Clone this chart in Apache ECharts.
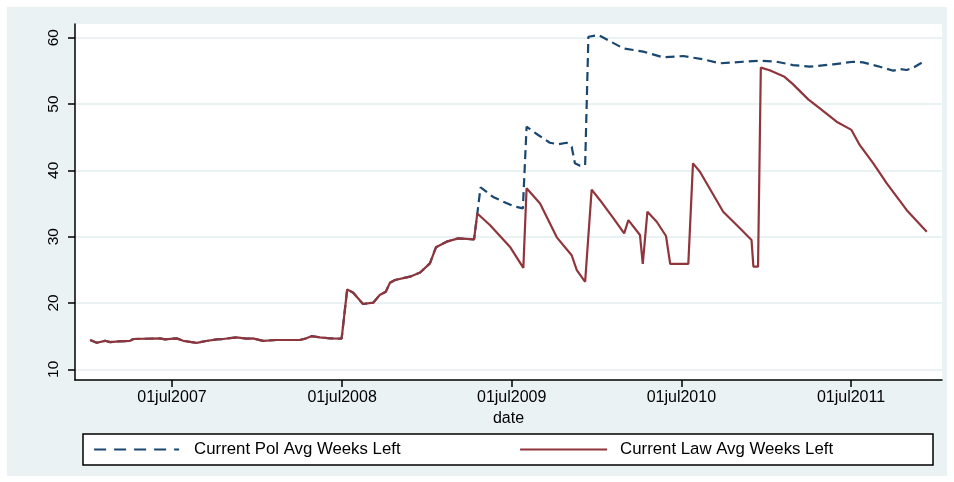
<!DOCTYPE html>
<html>
<head>
<meta charset="utf-8">
<script src="https://cdn.jsdelivr.net/npm/echarts@6/dist/echarts.min.js"></script>
<style>
  html, body { margin: 0; padding: 0; background: #fff; }
  #chart { width: 954px; height: 482px; }
</style>
</head>
<body>
<div id="chart"></div>
<script>
// Weekly averages: both measures coincide until April 2009
const sharedDates = [
  '2007-01-06','2007-01-20','2007-02-07','2007-02-18','2007-03-08','2007-04-02','2007-04-09',
  '2007-06-05','2007-06-16','2007-07-11','2007-07-25','2007-08-23','2007-09-13','2007-10-05',
  '2007-10-19','2007-11-17','2007-12-08','2007-12-22','2008-01-13','2008-02-11','2008-03-10',
  '2008-04-01','2008-04-15','2008-04-26','2008-05-14','2008-06-05','2008-06-30','2008-07-04',
  '2008-07-12','2008-07-25','2008-08-15','2008-09-06','2008-09-20','2008-10-03','2008-10-12',
  '2008-10-23','2008-11-24','2008-12-16','2009-01-06','2009-01-19','2009-02-11','2009-03-08',
  '2009-04-11'
];
const sharedValues = [
  14.42, 14.0, 14.3, 14.1, 14.2, 14.3, 14.57,
  14.67, 14.52, 14.67, 14.3, 14.0, 14.27, 14.52,
  14.57, 14.83, 14.62, 14.67, 14.3, 14.42, 14.42,
  14.42, 14.67, 15.0, 14.83, 14.67, 14.62, 14.57,
  22.06, 21.55, 19.85, 20.05, 21.2, 21.7, 23.06,
  23.47, 23.97, 24.6, 25.98, 28.4, 29.25, 29.75,
  29.6
];

// Current Pol Avg Weeks Left, after the split
const polDates = [
  '2009-04-25','2009-05-22','2009-06-13','2009-07-05','2009-07-25','2009-08-02','2009-08-27',
  '2009-09-21','2009-10-09','2009-10-27','2009-11-07','2009-11-14','2009-11-25','2009-12-06',
  '2009-12-13','2010-01-04','2010-02-26','2010-04-10','2010-05-23','2010-07-05','2010-08-17',
  '2010-09-22','2010-11-11','2010-12-17','2011-01-22','2011-02-26','2011-04-03','2011-05-24',
  '2011-07-06','2011-07-27','2011-09-01','2011-09-30','2011-10-14','2011-10-29','2011-11-12',
  '2011-11-30'
];
const polValues = [
  37.44, 36.0, 35.27, 34.6, 34.27, 46.58, 45.33,
  44.17, 43.93, 44.17, 43.57, 41.06, 40.7, 40.8,
  60.15, 60.4, 58.4, 57.9, 57.05, 57.24, 56.74,
  56.14, 56.38, 56.53, 56.38, 55.88, 55.63, 55.99,
  56.38, 56.29, 55.63, 55.03, 55.28, 55.13, 55.48,
  56.23
];

// Current Law Avg Weeks Left, after the split
const lawDates = [
  '2009-04-18','2009-05-15','2009-06-27','2009-07-26','2009-08-02','2009-08-31','2009-10-06',
  '2009-11-07','2009-11-18','2009-12-06','2009-12-20','2010-01-07','2010-02-05','2010-02-28',
  '2010-03-09','2010-04-03','2010-04-09','2010-04-19','2010-05-09','2010-05-29','2010-06-07',
  '2010-07-16','2010-07-26','2010-08-10','2010-09-29','2010-11-04','2010-11-29','2010-12-03',
  '2010-12-13','2010-12-19','2011-01-07','2011-02-08','2011-02-26','2011-03-31','2011-04-25',
  '2011-05-31','2011-07-02','2011-07-20','2011-08-18','2011-09-16','2011-10-29','2011-12-11'
];
const lawValues = [
  33.5, 31.76, 28.5, 25.3, 37.3, 35.0, 29.9,
  27.2, 24.97, 23.2, 37.1, 35.5, 32.77, 30.5,
  32.5, 30.25, 25.9, 33.77, 32.25, 30.1, 25.9,
  25.9, 41.06, 39.8, 33.77, 31.26, 29.5, 25.48,
  25.48, 55.5, 55.1, 54.1, 53.0, 50.7, 49.36,
  47.34, 46.1, 43.8, 41.06, 38.05, 34.0, 30.76
];

const xTickDates = ['2007-07-01','2008-07-01','2009-07-01','2010-07-01','2011-07-01'];
const yTicks = [10, 20, 30, 40, 50, 60];

const seriesNames = ['Current Pol Avg Weeks Left', 'Current Law Avg Weeks Left'];
const navy = '#1a476f';
const maroon = '#90353b';
const font = 'Liberation Sans, Arial, Helvetica, sans-serif';
const monthNames = ['jan','feb','mar','apr','may','jun','jul','aug','sep','oct','nov','dec'];

function ts(s) {
  const p = s.split('-').map(Number);
  return Date.UTC(p[0], p[1] - 1, p[2]);
}
function pairs(dates, values) {
  return dates.map((d, i) => [ts(d), values[i]]);
}
function stataDate(v) {
  const d = new Date(v);
  const day = String(d.getUTCDate()).padStart(2, '0');
  return day + monthNames[d.getUTCMonth()] + d.getUTCFullYear();
}

const polData = pairs(sharedDates, sharedValues).concat(pairs(polDates, polValues));
const lawData = pairs(sharedDates, sharedValues).concat(pairs(lawDates, lawValues));

const legendText = { fontSize: 16.8, color: '#000', fontFamily: font };

const chart = echarts.init(document.getElementById('chart'), null, { renderer: 'canvas' });
chart.setOption({
  backgroundColor: '#ffffff',
  animation: false,
  textStyle: { fontFamily: font },
  graphic: [
    {
      type: 'rect', z: -10, silent: true,
      shape: { x: 7, y: 7, width: 940, height: 469 },
      style: { fill: '#eaf2f3' }
    },
    {
      type: 'rect', z: 1, silent: true,
      shape: { x: 83, y: 434, width: 850, height: 31 },
      style: { fill: '#ffffff', stroke: '#000000', lineWidth: 1.5 }
    }
  ],
  grid: {
    left: 75, top: 24, right: 12, bottom: 102,
    show: true, backgroundColor: '#ffffff', borderWidth: 0
  },
  legend: [
    {
      data: [{
        name: seriesNames[0],
        lineStyle: { type: [12, 8], width: 2.2 },
        itemStyle: { opacity: 0 }
      }],
      left: 93, top: 441, padding: 0,
      itemWidth: 85, itemHeight: 16,
      textStyle: Object.assign({ padding: [0, 0, 0, 10] }, legendText)
    },
    {
      data: [{
        name: seriesNames[1],
        lineStyle: { width: 2.2 },
        itemStyle: { opacity: 0 }
      }],
      left: 519, top: 441, padding: 0,
      itemWidth: 87, itemHeight: 16,
      textStyle: Object.assign({ padding: [0, 0, 0, 8] }, legendText)
    }
  ],
  xAxis: {
    type: 'value',
    min: Date.UTC(2006, 11, 4, 8),
    max: Date.UTC(2012, 0, 12, 20),
    name: 'date',
    nameLocation: 'middle',
    nameGap: 28,
    nameTextStyle: { fontSize: 16, color: '#000', fontFamily: font },
    axisLine: { show: true, lineStyle: { color: '#000', width: 1.5 } },
    axisTick: {
      show: true, length: 7, inside: false,
      lineStyle: { color: '#000', width: 1.5 },
      customValues: xTickDates.map(ts)
    },
    axisLabel: {
      show: true, margin: 10, fontSize: 16, color: '#000', fontFamily: font,
      customValues: xTickDates.map(ts),
      formatter: v => stataDate(v)
    },
    splitLine: { show: false }
  },
  yAxis: {
    type: 'value',
    min: 8.39,
    max: 62.07,
    axisLine: { show: true, lineStyle: { color: '#000', width: 1.5 } },
    axisTick: {
      show: true, length: 7, inside: false,
      lineStyle: { color: '#000', width: 1.5 },
      customValues: yTicks
    },
    axisLabel: {
      show: true, rotate: 90, margin: 13, fontSize: 15.5, color: '#000', fontFamily: font,
      customValues: yTicks
    },
    splitLine: { show: true, lineStyle: { color: '#eaf2f3', width: 2 } }
  },
  series: [
    {
      name: seriesNames[0],
      type: 'line',
      data: polData,
      symbol: 'none',
      showSymbol: false,
      lineStyle: { color: navy, width: 2.2, type: [9, 5] },
      itemStyle: { color: navy }
    },
    {
      name: seriesNames[1],
      type: 'line',
      data: lawData,
      symbol: 'none',
      showSymbol: false,
      lineStyle: { color: maroon, width: 2.2 },
      itemStyle: { color: maroon }
    }
  ]
});
</script>
</body>
</html>
